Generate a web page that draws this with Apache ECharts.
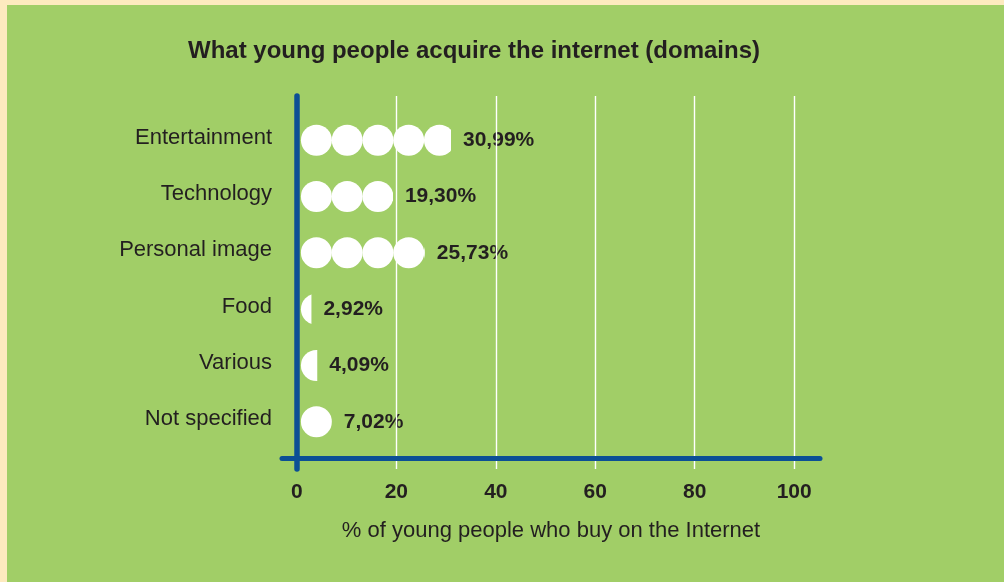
<!DOCTYPE html>
<html>
<head>
<meta charset="utf-8">
<script src="https://cdn.jsdelivr.net/npm/echarts@6/dist/echarts.min.js"></script>
<style>
  html, body { margin: 0; padding: 0; width: 1004px; height: 582px; overflow: hidden; background: #fdeabf; }
  #panel { position: absolute; left: 7px; top: 5px; right: 0; bottom: 0; background: #a1ce67; }
  #chart { position: absolute; left: 0; top: 0; width: 1004px; height: 582px; }
</style>
</head>
<body>
<div id="panel"></div>
<div id="chart"></div>
<script>
// Domains bought online by young people (share of respondents, %)
const categories = ['Entertainment', 'Technology', 'Personal image', 'Food', 'Various', 'Not specified'];
const shares = [30.99, 19.30, 25.73, 2.92, 4.09, 7.02];
const xTicks = [0, 20, 40, 60, 80, 100];

const titleText = 'What young people acquire the internet (domains)';
const xAxisName = '% of young people who buy on the Internet';

const INK = '#231f20';
const AXIS_BLUE = '#0b4f95';
const FONT = '"Liberation Sans", Arial, Helvetica, sans-serif';

// Shared horizontal extent for both grids (axis lines overshoot slightly past 0)
const X_MIN = -3;
const X_MAX = 105.2;

const fmtPct = v => v.toFixed(2).replace('.', ',') + '%';

const chart = echarts.init(document.getElementById('chart'), null, { renderer: 'canvas' });

chart.setOption({
  backgroundColor: 'transparent',
  animation: false,
  title: {
    text: titleText,
    left: 474,
    top: 39,
    padding: 0,
    textAlign: 'center',
    textStyle: { fontFamily: FONT, fontSize: 24, fontWeight: 'bold', color: INK }
  },
  grid: [
    // frame: blue axes and white gridlines
    { left: 282, right: 184, top: 96, bottom: 113, containLabel: false },
    // rows of circles
    { left: 282, right: 184, top: 112, height: 338, containLabel: false }
  ],
  xAxis: [
    {
      gridIndex: 0,
      type: 'value',
      min: X_MIN,
      max: X_MAX,
      splitNumber: 5,
      z: 5,
      axisLine: { show: true, onZero: true, lineStyle: { color: AXIS_BLUE, width: 5 } },
      axisTick: { show: false },
      axisLabel: {
        showMinLabel: false,
        showMaxLabel: false,
        margin: 13,
        fontFamily: FONT,
        fontSize: 21,
        fontWeight: 'bold',
        color: INK,
        formatter: v => (xTicks.indexOf(v) >= 0 ? String(v) : '')
      },
      splitLine: {
        show: true,
        showMinLine: false,
        showMaxLine: false,
        lineStyle: { color: '#ffffff', width: 1.4 }
      },
      name: xAxisName,
      nameLocation: 'middle',
      nameGap: 51,
      nameTextStyle: { fontFamily: FONT, fontSize: 22, color: INK }
    },
    {
      gridIndex: 1,
      type: 'value',
      min: X_MIN,
      max: X_MAX,
      show: false
    }
  ],
  yAxis: [
    {
      gridIndex: 0,
      type: 'value',
      min: -3,
      max: 97,
      z: 5,
      axisLine: { show: true, onZero: true, lineStyle: { color: AXIS_BLUE, width: 5.5 } },
      axisTick: { show: false },
      axisLabel: { show: false },
      splitLine: { show: false }
    },
    {
      gridIndex: 1,
      type: 'category',
      inverse: true,
      data: categories,
      axisLine: { show: false },
      axisTick: { show: false },
      splitLine: { show: false },
      axisLabel: {
        margin: 10,
        verticalAlign: 'bottom',
        lineHeight: 5,
        fontFamily: FONT,
        fontSize: 22,
        color: INK
      }
    }
  ],
  series: [
    {
      // circles, the last one cut at the value
      type: 'pictorialBar',
      xAxisIndex: 1,
      yAxisIndex: 1,
      data: shares,
      symbol: 'circle',
      symbolSize: [31, 31],
      symbolOffset: [4, 0],
      symbolRepeat: true,
      symbolClip: true,
      symbolMargin: 0,
      itemStyle: { color: '#ffffff' },
      z: 2
    },
    {
      // invisible carrier for the value labels, ending exactly at each value
      type: 'bar',
      xAxisIndex: 1,
      yAxisIndex: 1,
      data: shares,
      barWidth: 31,
      silent: true,
      itemStyle: { color: 'rgba(0,0,0,0)' },
      label: {
        show: true,
        position: 'right',
        distance: 12,
        fontFamily: FONT,
        fontSize: 21,
        fontWeight: 'bold',
        color: INK,
        formatter: p => fmtPct(p.value)
      },
      z: 3
    }
  ]
});
</script>
</body>
</html>
